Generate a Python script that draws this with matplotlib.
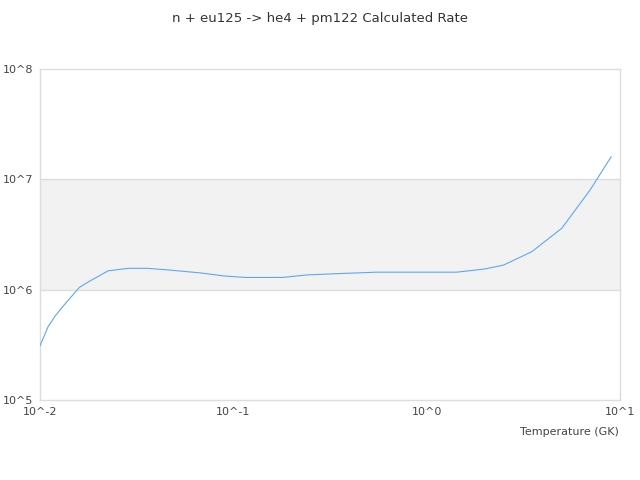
import matplotlib
matplotlib.use("Agg")
import matplotlib.pyplot as plt

# temperature grid (GK) and rate
temp = [0.01, 0.011, 0.012, 0.013, 0.016, 0.018, 0.0225, 0.0285, 0.036, 0.046, 0.067,
        0.09, 0.115, 0.18, 0.24, 0.4, 0.55, 1.43, 2.0, 2.5, 3.5, 5.0, 7.0, 9.0]
rate = [3.1e5, 4.6e5, 5.8e5, 6.9e5, 1.05e6, 1.19e6, 1.48e6, 1.56e6, 1.56e6, 1.51e6, 1.42e6,
        1.33e6, 1.29e6, 1.29e6, 1.36e6, 1.41e6, 1.44e6, 1.44e6, 1.54e6, 1.67e6, 2.21e6,
        3.6e6, 8.0e6, 1.6e7]

xticks = [0.01, 0.1, 1, 10]
xlabels = ["10^-2", "10^-1", "10^0", "10^1"]
yticks = [1e5, 1e6, 1e7, 1e8]
ylabels = ["10^5", "10^6", "10^7", "10^8"]

fig = plt.figure(figsize=(6.4, 4.8), dpi=100)
ax = fig.add_axes([0.0625, 0.1667, 0.90625, 0.6896])

ax.axhspan(1e6, 1e7, facecolor="#f2f2f2", zorder=0, lw=0)
for v in [1e6, 1e7]:
    ax.axhline(v, color="#dddddd", lw=1, zorder=1)

ax.plot(temp, rate, color="#5ca8f2", lw=0.8, zorder=3)

ax.set_xscale("log")
ax.set_yscale("log")
ax.set_xlim(0.01, 10)
ax.set_ylim(1e5, 1e8)
ax.minorticks_off()
ax.set_xticks(xticks)
ax.set_xticklabels(xlabels)
ax.set_yticks(yticks)
ax.set_yticklabels(ylabels, ha="left")
ax.tick_params(axis="both", length=0, labelsize=8, colors="#444444")
ax.tick_params(axis="y", pad=27)
ax.tick_params(axis="x", pad=5)

for s in ax.spines.values():
    s.set_color("#dddddd")
    s.set_linewidth(1)

fig.text(0.5, 0.975, "n + eu125 -> he4 + pm122 Calculated Rate", ha="center", va="top",
         fontsize=9.5, color="#333333")
fig.text(0.967, 0.101, "Temperature (GK)", ha="right", va="center",
         fontsize=8, color="#444444")

fig.savefig("out.png", dpi=100)
